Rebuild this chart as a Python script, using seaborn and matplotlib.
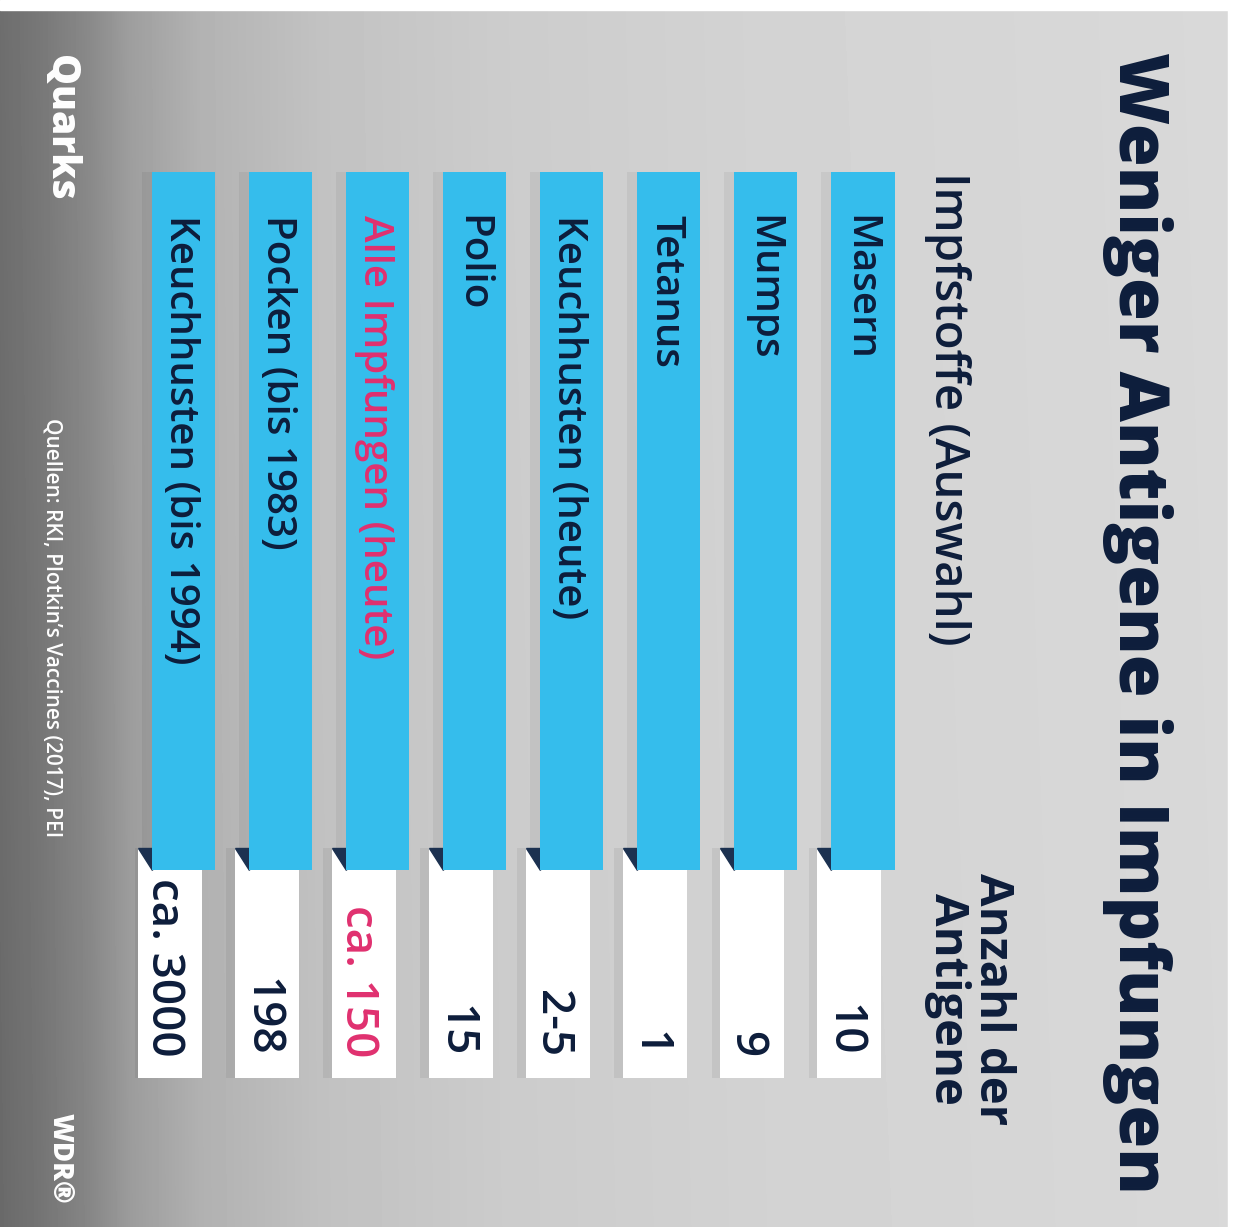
import numpy as np
import pandas as pd
import matplotlib
matplotlib.use("Agg")
import matplotlib.pyplot as plt
import seaborn as sns
from matplotlib.patches import Polygon, Rectangle

# ---------------- data ----------------
vaccines = ["Masern", "Mumps", "Tetanus", "Keuchhusten (heute)", "Polio",
            "Alle Impfungen (heute)", "Pocken (bis 1983)", "Keuchhusten (bis 1994)"]
antigen_labels = ["10", "9", "1", "2-5", "15", "ca. 150", "198", "ca. 3000"]
highlight = [False, False, False, False, False, True, False, False]
bar_extent = [1.0] * len(vaccines)   # label bars all share the same length

title = "Weniger Antigene in Impfungen"
left_header = "Impfstoffe (Auswahl)"
right_header = "Anzahl der\nAntigene"
source = "Quellen: RKI, Plotkin\u2019s Vaccines (2017), PEI"
brand_top = "Quarks"
brand_bottom = "WDR\u00ae"

# ---------------- style ----------------
W, H = 1233, 1227
NAVY = "#0d1d3b"
BLUE = "#35bdec"
PINK = "#e0306f"
FOLD = "#1c3150"
sns.set_theme(style="white")
plt.rcParams["font.family"] = ["Open Sans", "DejaVu Sans"]

fig = plt.figure(figsize=(W / 100, H / 100), dpi=100)

# background axes in pixel coordinates
bg = fig.add_axes([0, 0, 1, 1])
bg.set_xlim(0, W)
bg.set_ylim(H, 0)
bg.axis("off")
xs = np.array([0, 40, 90, 130, 200, 320, 500, 800, 1233])
vals = np.array([0.43, 0.47, 0.54, 0.62, 0.70, 0.76, 0.80, 0.83, 0.85])
grad = np.interp(np.arange(W), xs, vals)
ys = np.linspace(0, 1, H)[:, None]
img = grad[None, :] - 0.03 * ys * (1 - grad[None, :] / 0.9)
bg.imshow(np.clip(img, 0, 1), cmap="gray", vmin=0, vmax=1,
          extent=(0, W, H, 0), aspect="auto", zorder=0)
bg.add_patch(Rectangle((0, 0), W, 10, color="white", zorder=1))
bg.add_patch(Rectangle((1228, 0), 5, H, color="white", zorder=1))

# ---------------- bar axes ----------------
top_px, blue_end_px, box_top_px, box_end_px = 172, 870, 848, 1078
unit = blue_end_px - top_px
y_max = (box_end_px - top_px) / unit
box_top = (box_top_px - top_px) / unit
left_px, right_px = 135, 911.5
ax = fig.add_axes([left_px / W, 1 - box_end_px / H,
                   (right_px - left_px) / W, (box_end_px - top_px) / H])
ax.patch.set_alpha(0)

df = pd.DataFrame({"vaccine": vaccines, "extent": bar_extent,
                   "label": antigen_labels, "hl": highlight})
order = vaccines[::-1]
pos = {v: i for i, v in enumerate(order)}

# soft shadows and white value boxes
for v in vaccines:
    i = pos[v]
    ax.bar(i - 0.25, y_max - box_top + 0.02, bottom=box_top, width=0.62,
           color="black", alpha=0.06, zorder=1, linewidth=0)
    ax.bar(i - 0.144, y_max - box_top, bottom=box_top, width=0.66,
           color="white", zorder=2, linewidth=0)
    ax.bar(i - 0.12, 1.0, width=0.62, color="black", alpha=0.05,
           zorder=1, linewidth=0)

sns.barplot(data=df, x="vaccine", y="extent", order=order, color=BLUE,
            saturation=1, width=0.65, ax=ax, zorder=4, linewidth=0)

for v in vaccines:
    i = pos[v]
    xl = i - 0.325
    tri = Polygon([[i - 0.144 - 0.33, box_top], [xl, box_top], [xl, 1.0]],
                  closed=True, color=FOLD, zorder=3)
    ax.add_patch(tri)

ax.set_xlim(-0.5, len(vaccines) - 0.5)
ax.set_ylim(y_max, 0)
ax.axis("off")

label_top = (215 - top_px) / unit
value_end = (1057 - top_px) / unit
for _, r in df.iterrows():
    i = pos[r["vaccine"]]
    c = PINK if r["hl"] else NAVY
    ax.text(i - 0.04, label_top, r["vaccine"], rotation=270, ha="center", va="top",
            fontsize=29, fontweight="semibold", color=c, zorder=6)
    ax.text(i - 0.144 - 0.06, value_end, r["label"], rotation=270, ha="center",
            va="bottom", fontsize=33, fontweight="semibold", color=c, zorder=6)

# ---------------- texts ----------------
bg.text(1138, 52, title, rotation=270, ha="center", va="top", fontsize=50,
        fontweight="heavy", color=NAVY, zorder=5)
bg.text(948, 172, left_header, rotation=270, ha="center", va="top", fontsize=34,
        fontweight="semibold", color=NAVY, zorder=5)
bg.text(970, 873, right_header, rotation=270, ha="center", va="top", fontsize=34,
        fontweight="bold", color=NAVY, linespacing=0.95, zorder=5)
bg.text(60, 55, brand_top, rotation=270, ha="center", va="top", fontsize=28,
        fontweight="heavy", color="white", zorder=5)
bg.text(52, 418, source, rotation=270, ha="center", va="top", fontsize=15,
        fontweight="semibold", color="white", zorder=5)
bg.text(60, 1113, brand_bottom, rotation=270, ha="center", va="top", fontsize=20,
        fontweight="heavy", color="white", zorder=5)

fig.savefig("out.png", dpi=100)
